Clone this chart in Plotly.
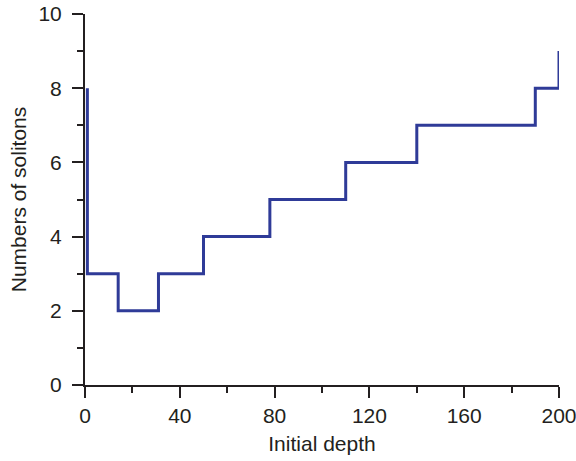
import plotly.graph_objects as go

depth = [1, 1, 14, 31, 50, 78, 110, 140, 190, 200]
solitons = [8, 3, 2, 3, 4, 5, 6, 7, 8, 9]
x_ticks = [0, 40, 80, 120, 160, 200]
y_ticks = [0, 2, 4, 6, 8, 10]

fig = go.Figure()
fig.add_trace(go.Scatter(
    x=depth, y=solitons, mode="lines", line_shape="hv",
    line=dict(color="#2f3b98", width=3), showlegend=False, cliponaxis=False,
))

font = dict(family="Liberation Sans, Arial, sans-serif", size=21, color="#231f20")
axis_common = dict(
    showline=True, linecolor="#231f20", linewidth=2,
    ticks="outside", ticklen=11, tickwidth=2, tickcolor="#231f20",
    showgrid=False, zeroline=False, tickfont=font, mirror=False,
    automargin=False, ticklabeloverflow="allow",
)
fig.update_layout(
    width=576, height=461,
    margin=dict(l=85, r=17, t=14, b=76),
    plot_bgcolor="white", paper_bgcolor="white",
    font=font,
    xaxis=dict(range=[0, 200], tickvals=x_ticks, ticktext=[str(v) for v in x_ticks],
               minor=dict(ticks="outside", ticklen=6, tickwidth=2, dtick=20, tick0=0, tickcolor="#231f20"),
               title=dict(text="Initial depth", font=font, standoff=10),
               **axis_common),
    yaxis=dict(range=[0, 10], tickvals=y_ticks, ticktext=[str(v) for v in y_ticks],
               minor=dict(ticks="outside", ticklen=6, tickwidth=2, dtick=1, tick0=0, tickcolor="#231f20"),
               title=dict(text="Numbers of solitons", font=font, standoff=6),
               ticklabelstandoff=6,
               **axis_common),
)
fig.write_html("out.html", config={"displayModeBar": False},
               post_script="document.body.style.margin='0px';document.body.style.overflow='hidden';")
